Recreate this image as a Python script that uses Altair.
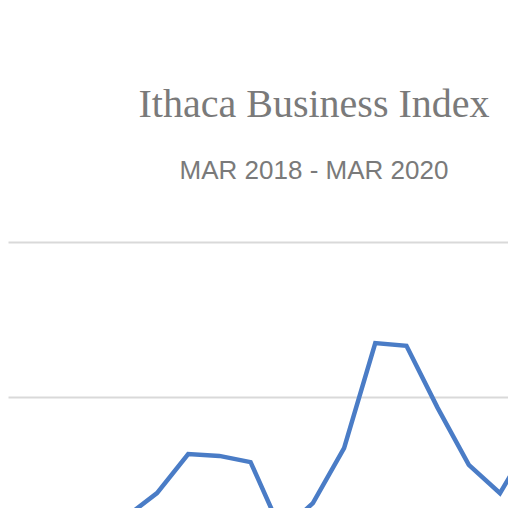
import altair as alt
import pandas as pd

# Months shown (index 0 = MAR 2018)
months = ["SEP 2018", "OCT 2018", "NOV 2018", "DEC 2018", "JAN 2019", "FEB 2019",
          "MAR 2019", "APR 2019", "MAY 2019", "JUN 2019", "JUL 2019", "AUG 2019",
          "SEP 2019", "OCT 2019"]
month_index = [6, 7, 8, 9, 10, 11, 12, 13, 14, 15, 16, 17, 18, 19]
index_values = [101.13, 101.90, 103.16, 103.10, 102.90, 100.65, 101.58,
                103.35, 106.74, 106.65, 104.65, 102.81, 101.90, 103.58]
grid_values = [105, 110]

df = pd.DataFrame({"month": months, "i": month_index, "value": index_values})

chart = alt.Chart(df).mark_line(
    color="#4a7cc6", strokeWidth=4.5, clip=True, strokeJoin="miter"
).encode(
    x=alt.X("i:Q", scale=alt.Scale(domain=[2.221, 18.257], nice=False, zero=False),
            axis=None),
    y=alt.Y("value:Q", scale=alt.Scale(domain=[101.42, 110], nice=False, zero=False),
            axis=alt.Axis(values=grid_values, labels=False, ticks=False, domain=False,
                          title=None, grid=True, gridColor="#d9d9d9", gridWidth=2)),
    order="i:Q",
).properties(
    width=500,
    height=266,
    padding={"top": 234, "left": 0, "right": 0, "bottom": 0},
    autosize=alt.AutoSizeParams(type="none"),
    title=alt.TitleParams(
        text="Ithaca Business Index",
        subtitle="MAR 2018 - MAR 2020",
        anchor="middle",
        dx=56,
        offset=58,
        font="Liberation Serif",
        fontSize=40,
        fontWeight="normal",
        color="#7a7a7a",
        subtitleFont="Liberation Sans",
        subtitleFontSize=26,
        subtitleColor="#7a7a7a",
        subtitlePadding=33,
    ),
).configure_view(stroke=None)

chart.save("out.html", embed_options={"renderer": "svg", "actions": False})
